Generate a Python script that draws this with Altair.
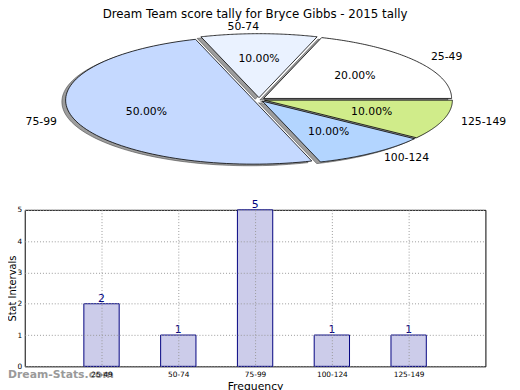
import altair as alt
import pandas as pd

# ---- data ----
categories = ["25-49", "50-74", "75-99", "100-124", "125-149"]
counts = [2, 1, 5, 1, 1]
pie_colors = ["#ffffff", "#eaf2ff", "#c5d9ff", "#b3d5ff", "#d0ec8a"]
y_ticks = [0, 1, 2, 3, 4, 5]
title_text = "Dream Team score tally for Bryce Gibbs - 2015 tally"
watermark_text = "Dream-Stats.com"

bar_fill = "#ccccea"
bar_edge = "#000080"

df = pd.DataFrame({"cat": categories, "count": counts,
                   "idx": list(range(len(categories)))})

EXPLODE = 0.03
N = 90

xs_pie = alt.Scale(domain=[-1, 1], range=[47, 429], zero=False, nice=False)
ys_pie = alt.Scale(domain=[-1, 1], range=[-47, -177], zero=False, nice=False)


def pie_base():
    return (
        alt.Chart(df)
        .transform_joinaggregate(total="sum(count)")
        .transform_window(cum="sum(count)", sort=[alt.SortField("idx")], frame=[None, 0])
        .transform_calculate(
            a0="2*PI*(datum.cum - datum.count)/datum.total",
            a1="2*PI*datum.cum/datum.total",
            pct="format(100*datum.count/datum.total, '.2f') + '%'",
        )
        .transform_calculate(mid="(datum.a0 + datum.a1)/2")
    )


def slice_geom(dx, dy):
    return (
        pie_base()
        .transform_calculate(pts=f"sequence(0, {N + 2})")
        .transform_flatten(["pts"], as_=["k"])
        .transform_calculate(
            r=f"(datum.k == 0 || datum.k == {N + 1}) ? 0 : 1",
            t=f"datum.a0 + (datum.a1 - datum.a0) * (datum.k - 1) / {N - 1}",
        )
        .transform_calculate(
            px=f"{EXPLODE}*cos(datum.mid) + datum.r*cos(datum.t) + ({dx})",
            py=f"{EXPLODE}*sin(datum.mid) + datum.r*sin(datum.t) + ({dy})",
        )
    )


def pxy(xf, yf):
    return dict(
        x=alt.X(f"{xf}:Q", scale=xs_pie, axis=None),
        y=alt.Y(f"{yf}:Q", scale=ys_pie, axis=None),
    )


shadow = slice_geom(-0.02, -0.025).mark_line(
    fill="#3c3c3c", fillOpacity=0.5, stroke="#3c3c3c", strokeOpacity=0.55, strokeWidth=1
).encode(order="k:Q", detail="cat:N", **pxy("px", "py"))

slices = slice_geom(0, 0).mark_line(stroke="black", strokeWidth=0.8).encode(
    order="k:Q",
    detail="cat:N",
    fill=alt.Fill("cat:N", scale=alt.Scale(domain=categories, range=pie_colors), legend=None),
    **pxy("px", "py"),
)

lab = pie_base().transform_calculate(
    lx=f"({EXPLODE}+1.1)*cos(datum.mid)",
    ly=f"({EXPLODE}+1.1)*sin(datum.mid)",
    qx=f"({EXPLODE}+0.6)*cos(datum.mid)",
    qy=f"({EXPLODE}+0.6)*sin(datum.mid)",
)
lab_left = lab.transform_filter("datum.lx > 1e-9").mark_text(
    align="left", baseline="middle", fontSize=11, color="black"
).encode(text="cat:N", **pxy("lx", "ly"))
lab_right = lab.transform_filter("datum.lx <= 1e-9").mark_text(
    align="right", baseline="middle", fontSize=11, color="black"
).encode(text="cat:N", **pxy("lx", "ly"))
pct = lab.mark_text(align="center", baseline="middle", fontSize=11, color="black").encode(
    text="pct:N", **pxy("qx", "qy")
)

title = alt.Chart(pd.DataFrame({"t": [title_text]})).mark_text(
    align="center", baseline="alphabetic", fontSize=12, color="black"
).encode(x=alt.value(234), y=alt.value(-195), text="t:N")

pie_layer = alt.layer(shadow, slices, lab_left, lab_right, pct, title)

# ---- bars ----
label_expr = "[" + ",".join(f"'{c}'" for c in categories) + "][datum.value]"
xs_bar = alt.Scale(domain=[-1, len(categories)], zero=False, nice=False)
ys_bar = alt.Scale(domain=[0, 5], nice=False, zero=True)

x_axis = alt.Axis(
    orient="bottom", values=list(range(len(categories))), labelExpr=label_expr,
    title="Frequency", titleFontSize=11, titleFontWeight="normal", titlePadding=3,
    labelFontSize=7.5, labelPadding=4, tickSize=0, domain=False, labelOverlap=False,
    grid=True, gridDash=[1, 2], gridColor="#999999", gridOpacity=1, zindex=1,
)
y_axis = alt.Axis(
    orient="left", values=y_ticks, format="d",
    labelOverlap=False, labelFlush=False,
    title="Stat Intervals", titleFontSize=10, titleFontWeight="normal",
    titleX=-12, titleY=79.5, titleBaseline="middle", titleAngle=270,
    labelFontSize=7.5, labelPadding=3, tickSize=0, domain=False,
    grid=True, gridDash=[1, 2], gridColor="#999999", gridOpacity=1, zindex=1,
)

bars_base = alt.Chart(df).transform_calculate(x0="datum.idx - 0.23", x1="datum.idx + 0.23")
bar = bars_base.mark_bar(fill=bar_fill, stroke=bar_edge, strokeWidth=1).encode(
    x=alt.X("x0:Q", scale=xs_bar, axis=x_axis),
    x2="x1:Q",
    y=alt.Y("count:Q", scale=ys_bar, axis=y_axis),
    y2=alt.datum(0),
)
bar_text = bars_base.mark_text(baseline="bottom", fontSize=11, color=bar_edge).encode(
    x=alt.X("idx:Q", scale=xs_bar, axis=x_axis),
    y=alt.Y("count:Q", scale=ys_bar, axis=y_axis),
    text="count:Q",
)
watermark = alt.Chart(pd.DataFrame({"w": [watermark_text]})).mark_text(
    align="left", baseline="middle", fontSize=11, fontWeight="bold", color="#9a9a9a"
).encode(x=alt.value(-17), y=alt.value(168), text="w:N")

bar_layer = alt.layer(bar, bar_text, watermark)

chart = (
    alt.layer(bar_layer, pie_layer)
    .resolve_scale(x="independent", y="independent", fill="independent")
    .properties(
        width=468,
        height=159,
        autosize=alt.AutoSizeParams(type="none"),
        padding={"left": 17, "top": 202, "right": 27, "bottom": 21},
        background="white",
    )
    .configure(font="DejaVu Sans")
    .configure_view(stroke="black", strokeWidth=1)
    .configure_axis(labelColor="black", titleColor="black", labelFont="DejaVu Sans", titleFont="DejaVu Sans")
)

chart.save("out.html", embed_options={"renderer": "svg", "actions": False})
